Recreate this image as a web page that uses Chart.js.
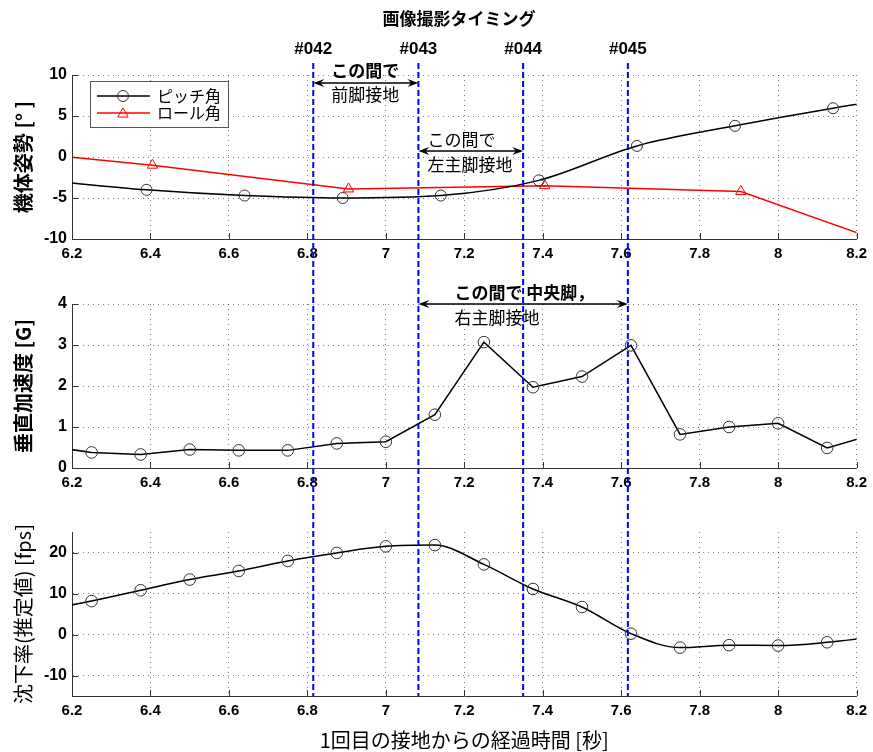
<!DOCTYPE html>
<html><head><meta charset="utf-8">
<script src="https://cdn.jsdelivr.net/npm/chart.js@4/dist/chart.umd.min.js"></script>
<style>
html,body{margin:0;padding:0;background:#fff;}
#wrap{position:relative;width:873px;height:752px;overflow:hidden;}
canvas{position:absolute;left:0;top:0;}
</style></head><body>
<div id="wrap">
<canvas id="c1" width="873" height="752"></canvas>
<canvas id="c2" width="873" height="752"></canvas>
<canvas id="c3" width="873" height="752"></canvas>
</div>
<script>
// ---------- data ----------
const pitchTimes  = [6.14, 6.39, 6.64, 6.89, 7.14, 7.39, 7.64, 7.89, 8.14, 8.39];
const pitchValues = [-2.9, -4.0, -4.7, -5.0, -4.7, -2.85, 1.35, 3.8, 5.95, 7.8];
const rollTimes   = [5.905, 6.405, 6.905, 7.405, 7.905, 8.405];
const rollValues  = [1.4, -1.0, -3.9, -3.5, -4.2, -12.7];
const sampleTimes = [6.125, 6.25, 6.375, 6.5, 6.625, 6.75, 6.875, 7.0, 7.125, 7.25, 7.375, 7.5, 7.625, 7.75, 7.875, 8.0, 8.125, 8.25];
const accelValues = [0.55, 0.38, 0.33, 0.45, 0.43, 0.43, 0.6, 0.64, 1.3, 3.07, 1.97, 2.23, 2.99, 0.82, 1.0, 1.09, 0.49, 0.84];
const sinkValues  = [5.9, 8.15, 10.8, 13.4, 15.5, 17.95, 19.9, 21.5, 21.8, 17.1, 11.1, 6.7, 0.2, -3.2, -2.6, -2.7, -1.9, -0.5];
const captureTimes  = [6.815, 7.083, 7.35, 7.617];
const captureLabels = ['#042', '#043', '#044', '#045'];
const xTicks        = [6.2, 6.4, 6.6, 6.8, 7.0, 7.2, 7.4, 7.6, 7.8, 8.0, 8.2];
const attitudeTicks = [-10, -5, 0, 5, 10];
const accelTicks    = [0, 1, 2, 3, 4];
const sinkTicks     = [-10, 0, 10, 20];
const seriesNames   = ['ピッチ角', 'ロール角'];

// ---------- style ----------
const CJK = '"Noto Sans CJK JP", sans-serif';
const LAT = '"Liberation Sans", Arial, sans-serif';
const axisColor = '#333';
const gridColor = 'rgba(0,0,0,0.5)';
const xTickFont = {family: LAT, size: 15, weight: 'bold'};
const yTickFont = {family: LAT, size: 16, weight: 'bold'};

function pts(xs, ys) { return xs.map((x, i) => ({x: x, y: ys[i]})); }

function xScale(h, title) {
  const o = {
    type: 'linear', min: 6.2, max: 8.2,
    afterBuildTicks: s => { s.ticks = xTicks.map(v => ({value: v})); },
    ticks: {callback: v => String(Math.round(v * 10) / 10), font: xTickFont, color: '#000', padding: 6, maxRotation: 0, autoSkip: false},
    grid: {color: gridColor, lineWidth: 1, drawTicks: false},
    border: {display: true, color: axisColor, width: 1, dash: [1, 4]},
    afterFit: s => { s.height = h; }
  };
  if (title) o.title = {display: true, text: title, font: {family: CJK, size: 20}, color: '#000', padding: {top: 0, bottom: 0}};
  return o;
}
function yScale(min, max, tickArr, title, bold) {
  return {
    type: 'linear', min: min, max: max,
    afterBuildTicks: s => { s.ticks = tickArr.map(v => ({value: v})); },
    ticks: {callback: v => String(v), font: yTickFont, color: '#000', padding: 5, autoSkip: false},
    grid: {color: gridColor, lineWidth: 1, drawTicks: false},
    border: {display: true, color: axisColor, width: 1, dash: [1, 4]},
    title: {display: true, text: title, font: {family: CJK, size: 20, weight: bold ? 'bold' : 'normal'}, color: '#000', padding: {top: 11, bottom: 0}},
    afterFit: s => { s.width = 72; }
  };
}

const innerTicks = {
  id: 'innerTicks',
  afterDraw(chart) {
    const ctx = chart.ctx, a = chart.chartArea, x = chart.scales.x, y = chart.scales.y;
    ctx.save();
    ctx.strokeStyle = axisColor; ctx.lineWidth = 1;
    ctx.beginPath();
    x.ticks.forEach(t => { const px = Math.round(x.getPixelForValue(t.value)) + 0.5; ctx.moveTo(px, a.bottom); ctx.lineTo(px, a.bottom - 6); });
    y.ticks.forEach(t => { const py = Math.round(y.getPixelForValue(t.value)) + 0.5; ctx.moveTo(a.left, py); ctx.lineTo(a.left + 6, py); });
    ctx.stroke();
    ctx.restore();
  }
};

function circleMark(ctx, x, y, r, color) {
  ctx.beginPath(); ctx.arc(x, y, r, 0, Math.PI * 2); ctx.strokeStyle = color; ctx.lineWidth = 1; ctx.stroke();
}
function triMark(ctx, x, y, r, color) {
  ctx.beginPath();
  for (let i = 0; i < 3; i++) {
    const a = i * 2 * Math.PI / 3;
    const px = x + Math.sin(a) * r, py = y - Math.cos(a) * r;
    if (i === 0) ctx.moveTo(px, py); else ctx.lineTo(px, py);
  }
  ctx.closePath(); ctx.strokeStyle = color; ctx.lineWidth = 1; ctx.stroke();
}

const legendPlugin = {
  id: 'boxLegend',
  afterDraw(chart) {
    const ctx = chart.ctx;
    const ds = chart.data.datasets;
    ctx.save();
    ctx.fillStyle = '#fff'; ctx.strokeStyle = '#555'; ctx.lineWidth = 1;
    ctx.fillRect(90.5, 81.5, 138, 46); ctx.strokeRect(90.5, 81.5, 138, 46);
    const rows = [96, 113];
    ds.forEach((d, i) => {
      const y = rows[i];
      ctx.beginPath(); ctx.moveTo(97, y); ctx.lineTo(150, y);
      ctx.strokeStyle = d.borderColor; ctx.lineWidth = d.borderWidth; ctx.stroke();
      if (d.pointStyle === 'triangle') triMark(ctx, 123, y + 1, d.pointRadius, d.pointBorderColor);
      else circleMark(ctx, 123, y, d.pointRadius, d.pointBorderColor);
      ctx.fillStyle = '#000'; ctx.font = '16px ' + CJK; ctx.textAlign = 'left'; ctx.textBaseline = 'middle';
      ctx.fillText(d.label, 157, y);
    });
    ctx.restore();
  }
};

function arrow(ctx, x1, x2, y) {
  const L = 11, W = 4;
  ctx.save();
  ctx.strokeStyle = '#000'; ctx.fillStyle = '#000'; ctx.lineWidth = 1.3;
  ctx.beginPath(); ctx.moveTo(x1 + 5, y); ctx.lineTo(x2 - 5, y); ctx.stroke();
  ctx.beginPath(); ctx.moveTo(x1, y); ctx.lineTo(x1 + L, y - W); ctx.lineTo(x1 + L * 0.65, y); ctx.lineTo(x1 + L, y + W); ctx.closePath(); ctx.fill();
  ctx.beginPath(); ctx.moveTo(x2, y); ctx.lineTo(x2 - L, y - W); ctx.lineTo(x2 - L * 0.65, y); ctx.lineTo(x2 - L, y + W); ctx.closePath(); ctx.fill();
  ctx.restore();
}
function txt(ctx, s, x, y, bold) {
  ctx.font = (bold ? 'bold ' : '') + '17px ' + CJK;
  ctx.fillStyle = '#000'; ctx.textAlign = 'left'; ctx.textBaseline = 'middle';
  ctx.fillText(s, x, y);
}

const overlayPlugin = {
  id: 'captureOverlay',
  afterDraw(chart) {
    const ctx = chart.ctx, xs = chart.scales.x;
    const px = captureTimes.map(t => xs.getPixelForValue(t));
    ctx.save();
    // dashed capture lines
    ctx.strokeStyle = '#0000ff'; ctx.lineWidth = 2; ctx.setLineDash([6, 3]);
    px.forEach(p => { ctx.beginPath(); ctx.moveTo(p, 63); ctx.lineTo(p, chart.chartArea.bottom); ctx.stroke(); });
    ctx.setLineDash([]);
    // labels
    ctx.fillStyle = '#000'; ctx.textAlign = 'center'; ctx.textBaseline = 'middle';
    ctx.font = 'bold 17px ' + LAT;
    px.forEach((p, i) => ctx.fillText(captureLabels[i], p, 49));
    ctx.font = 'bold 17px ' + CJK;
    ctx.fillText('画像撮影タイミング', 459, 19);
    // annotations
    arrow(ctx, px[0], px[1], 83);
    txt(ctx, 'この間で', px[0] + 18, 71, true);
    txt(ctx, '前脚接地', px[0] + 18, 95, false);
    arrow(ctx, px[1], px[2], 151);
    txt(ctx, 'この間で', px[1] + 9, 140, false);
    txt(ctx, '左主脚接地', px[1] + 9, 165, false);
    arrow(ctx, px[1], px[3], 304);
    txt(ctx, 'この間で 中央脚，', px[1] + 36, 293, true);
    txt(ctx, '右主脚接地', px[1] + 36, 318, false);
    ctx.restore();
  }
};

const common = {
  responsive: false, animation: false, events: [],
  plugins: {legend: {display: false}, tooltip: {enabled: false}}
};

new Chart(document.getElementById('c1'), {
  type: 'line',
  data: {datasets: [
    {label: seriesNames[0], data: pts(pitchTimes, pitchValues), borderColor: '#000', borderWidth: 1.5, pointStyle: 'circle', pointRadius: 5.5, pointBorderColor: '#333', pointBackgroundColor: 'rgba(0,0,0,0)', pointBorderWidth: 1, cubicInterpolationMode: 'monotone'},
    {label: seriesNames[1], data: pts(rollTimes, rollValues), borderColor: '#ff0000', borderWidth: 1.5, pointStyle: 'triangle', pointRadius: 6, pointBorderColor: '#ff0000', pointBackgroundColor: 'rgba(0,0,0,0)', pointBorderWidth: 1, tension: 0}
  ]},
  options: Object.assign({}, common, {
    layout: {padding: {left: 0, right: 15, top: 75, bottom: 752 - 239 - 30}},
    scales: {x: xScale(30), y: yScale(-10, 10, attitudeTicks, '機体姿勢 [° ]', true)}
  }),
  plugins: [innerTicks, legendPlugin]
});

new Chart(document.getElementById('c2'), {
  type: 'line',
  data: {datasets: [
    {label: '垂直加速度', data: pts(sampleTimes, accelValues), borderColor: '#000', borderWidth: 1.5, pointStyle: 'circle', pointRadius: 5.8, pointBorderColor: '#333', pointBackgroundColor: 'rgba(0,0,0,0)', pointBorderWidth: 1, tension: 0}
  ]},
  options: Object.assign({}, common, {
    layout: {padding: {left: 0, right: 15, top: 304, bottom: 752 - 468 - 30}},
    scales: {x: xScale(30), y: yScale(0, 4, accelTicks, '垂直加速度 [G]', true)}
  }),
  plugins: [innerTicks]
});

new Chart(document.getElementById('c3'), {
  type: 'line',
  data: {datasets: [
    {label: '沈下率', data: pts(sampleTimes, sinkValues), borderColor: '#000', borderWidth: 1.5, pointStyle: 'circle', pointRadius: 5.8, pointBorderColor: '#333', pointBackgroundColor: 'rgba(0,0,0,0)', pointBorderWidth: 1, cubicInterpolationMode: 'monotone'}
  ]},
  options: Object.assign({}, common, {
    layout: {padding: {left: 0, right: 15, top: 532, bottom: 0}},
    scales: {x: xScale(56, '1回目の接地からの経過時間 [秒]'), y: yScale(-15, 25, sinkTicks, '沈下率(推定値) [fps]', false)}
  }),
  plugins: [innerTicks, overlayPlugin]
});
</script>
</body></html>
